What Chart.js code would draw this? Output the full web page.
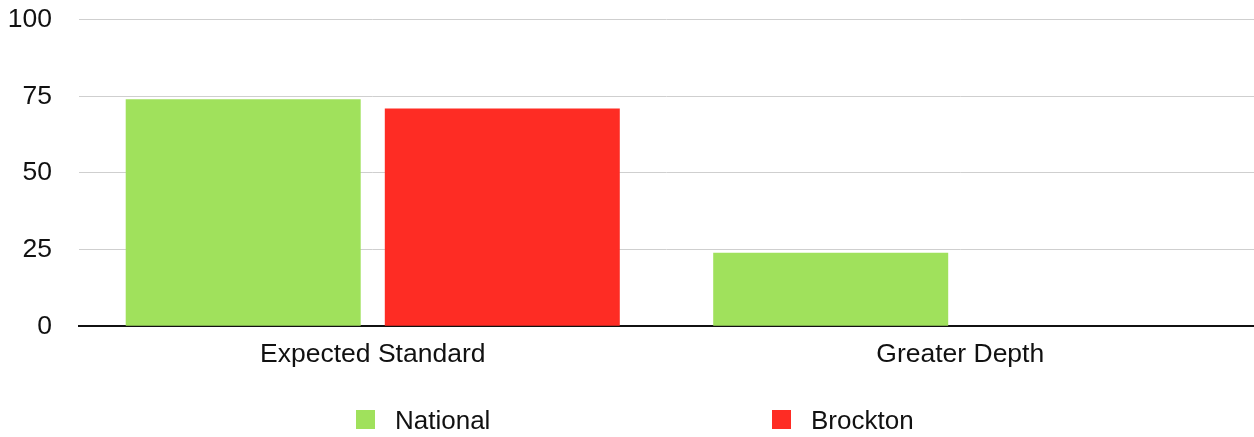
<!DOCTYPE html>
<html>
<head>
<meta charset="utf-8">
<script src="https://cdn.jsdelivr.net/npm/chart.js@4.4.1/dist/chart.umd.min.js"></script>
<style>
  html, body { margin: 0; padding: 0; background: #fff; }
  #wrap { position: relative; width: 1254px; height: 437px; }
  #legend { position: absolute; left: 0; top: 405px; width: 1254px; height: 30px;
            font-family: "Liberation Sans", Arial, Helvetica, sans-serif; font-size: 26px; color: #111; }
  .item { position: absolute; top: 0; height: 30px; line-height: 30px; white-space: nowrap; }
  .box { position: absolute; top: 5px; width: 19px; height: 19px; }
  .lbl { position: absolute; top: 0; }
</style>
</head>
<body>
<div id="wrap">
  <canvas id="c" width="1254" height="437"></canvas>
  <div id="legend"></div>
</div>
<script>
const categories = ["Expected Standard", "Greater Depth"];
const seriesNames = ["National", "Brockton"];
const nationalValues = [74, 24];
const brocktonValues = [71, 0];
const yTicks = [0, 25, 50, 75, 100];
const seriesColors = ["#a0e15c", "#fe2c24"];

const FONT = '"Liberation Sans", Arial, Helvetica, sans-serif';

const chart = new Chart(document.getElementById('c'), {
  type: 'bar',
  data: {
    labels: categories,
    datasets: [
      { label: seriesNames[0], data: nationalValues, backgroundColor: seriesColors[0],
        categoryPercentage: 0.882, barPercentage: 0.907 },
      { label: seriesNames[1], data: brocktonValues, backgroundColor: seriesColors[1],
        categoryPercentage: 0.882, barPercentage: 0.907 }
    ]
  },
  options: {
    responsive: false,
    animation: false,
    layout: { padding: { top: 19.5, right: 0, bottom: 0, left: 0 } },
    plugins: { legend: { display: false }, tooltip: { enabled: false } },
    scales: {
      x: {
        z: 1,
        grid: { display: false, tickLength: 0 },
        border: { display: true, color: '#111', width: 2 },
        ticks: { font: { family: FONT, size: 26.5 }, color: '#111', padding: 12 },
        afterFit: (scale) => { scale.height = 110.7; }
      },
      y: {
        min: yTicks[0],
        max: yTicks[yTicks.length - 1],
        afterBuildTicks: (scale) => { scale.ticks = yTicks.map(v => ({ value: v })); },
        border: { display: false },
        grid: { color: '#cfcfcf', lineWidth: 1, drawTicks: false },
        ticks: { font: { family: FONT, size: 26.5 }, color: '#111', padding: 27 },
        afterFit: (scale) => { scale.width = 79; scale.paddingTop = 0; scale.paddingBottom = 0; }
      }
    }
  }
});

const legend = document.getElementById('legend');
const positions = [356, 772];
seriesNames.forEach((name, i) => {
  const item = document.createElement('div');
  item.className = 'item';
  item.style.left = positions[i] + 'px';
  const box = document.createElement('span');
  box.className = 'box';
  box.style.left = '0px';
  box.style.background = seriesColors[i];
  const lbl = document.createElement('span');
  lbl.className = 'lbl';
  lbl.style.left = '39px';
  lbl.textContent = name;
  item.appendChild(box);
  item.appendChild(lbl);
  legend.appendChild(item);
});
</script>
</body>
</html>
